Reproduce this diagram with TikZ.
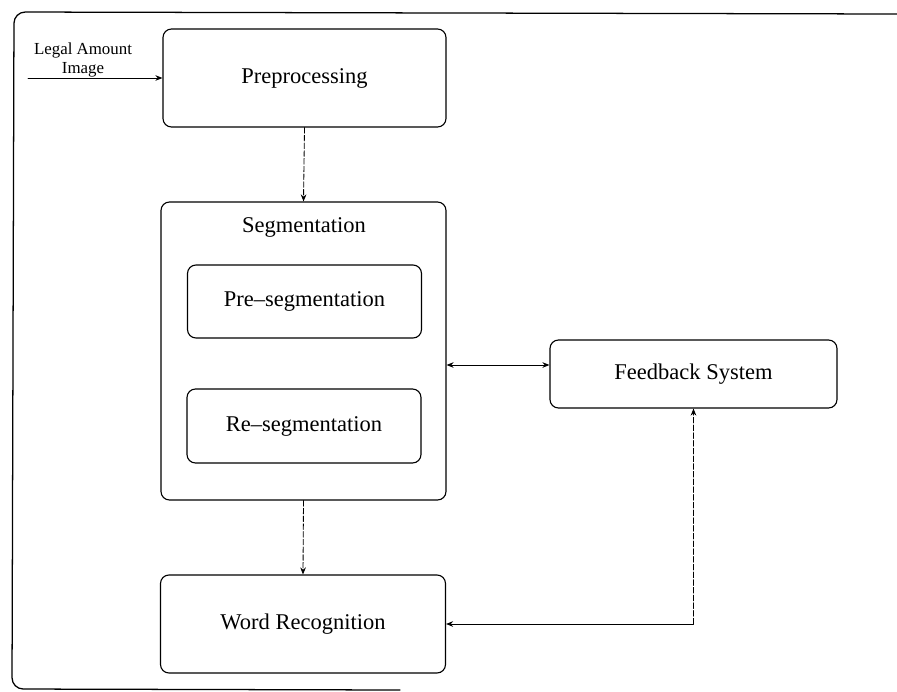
\documentclass[tikz,border=0pt]{standalone}
\usepackage{fontspec}
\setmainfont{Liberation Serif}
\usetikzlibrary{arrows.meta,positioning}
\begin{document}
\begin{tikzpicture}[x=0.025cm, y=-0.025cm, line join=round, line cap=round, >={Stealth[length=5pt,width=4pt]},
	blok/.style={draw, line width=0.8pt, rounded corners=6pt, inner sep=0pt, font=\fontsize{16}{19}\selectfont},
	con/.style={line width=0.7pt},
	vcon/.style={line width=0.6pt, dashed, dash pattern=on 4pt off 1.5pt}]
	\useasboundingbox (0,0) rectangle (897,692);
	\draw[line width=0.9pt, rounded corners=8pt] (897,14)--(14,12)--(12,689)--(400,690);
	\node[blok, minimum width=283*0.025cm, minimum height=98*0.025cm] (pre) at (304.5,78) {Preprocessing};
	\node[blok, minimum width=285*0.025cm, minimum height=298*0.025cm] (seg) at (303.5,351) {};
	\node[font=\fontsize{16}{19}\selectfont] (segt) at (304,227) {Segmentation};
	\node[blok, minimum width=234*0.025cm, minimum height=73*0.025cm] (preseg) at (304.5,301.5) {Pre--segmentation};
	\node[blok, minimum width=234*0.025cm, minimum height=74*0.025cm] (reseg) at (304,426) {Re--segmentation};
	\node[blok, minimum width=287*0.025cm, minimum height=68*0.025cm] (fb) at (693.5,374) {Feedback System};
	\node[blok, minimum width=285*0.025cm, minimum height=98*0.025cm] (wr) at (303,624) {Word Recognition};
	\node[align=center, font=\fontsize{12}{13}\selectfont, inner sep=0pt] (lab) at (83,60) {Legal Amount\\Image};
	\coordinate (in) at (28,78);
	\draw[con,->] (in)--(pre.west);
	\draw[vcon,->] (pre.south)--(seg.north);
	\draw[vcon,->] (seg.south)--(wr.north);
	\draw[con,<->] (seg.east |- 0,365)--(fb.west |- 0,365);
	\draw[con,->] (fb.south |- wr.east)--(wr.east);
	\draw[vcon,->] (fb.south |- wr.east)--(fb.south);
\end{tikzpicture}
\end{document}
